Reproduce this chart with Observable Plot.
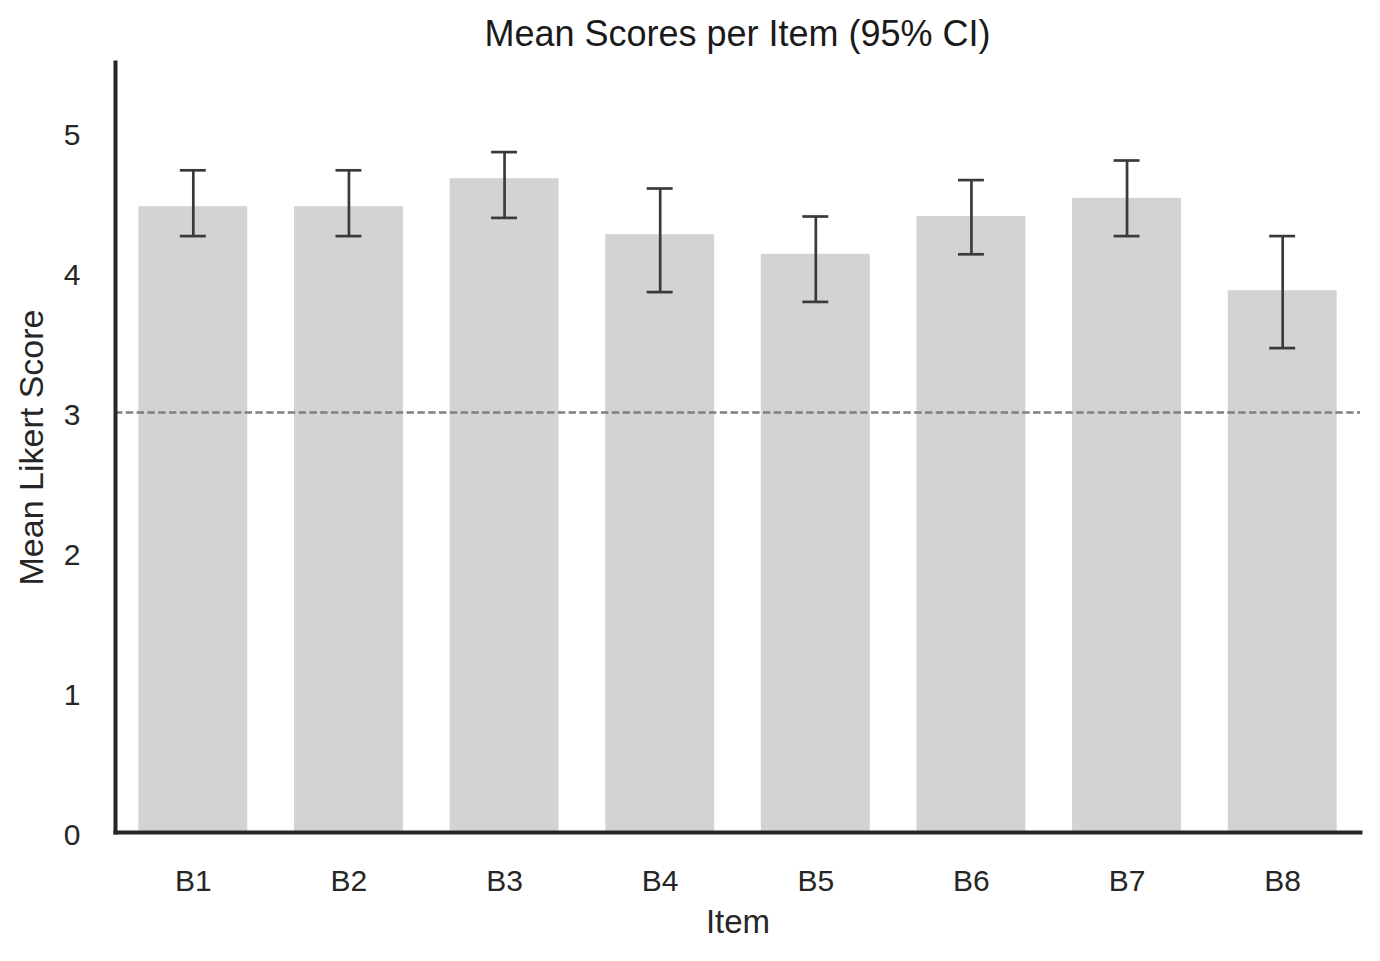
<!DOCTYPE html>
<html>
<head>
<meta charset="utf-8">
<script src="https://cdn.jsdelivr.net/npm/d3@7"></script>
<script src="https://cdn.jsdelivr.net/npm/@observablehq/plot@0.6"></script>
<style>
  html, body { margin: 0; padding: 0; background: #fff; }
  #wrap { position: relative; width: 1380px; height: 961px; font-family: "Liberation Sans", Arial, sans-serif; }
  #title { position: absolute; left: 95px; top: 0; width: 1285px; height: 68px; line-height: 68px;
           text-align: center; font-size: 36px; color: #1a1a1a; }
  #chart { position: absolute; left: 0; top: 0; }
</style>
</head>
<body>
<div id="wrap">
  <div id="chart"></div>
  <div id="title">Mean Scores per Item (95% CI)</div>
</div>
<script>
const items  = ["B1", "B2", "B3", "B4", "B5", "B6", "B7", "B8"];
const means  = [4.47, 4.47, 4.67, 4.27, 4.13, 4.40, 4.53, 3.87];
const ciLow  = [4.26, 4.26, 4.39, 3.86, 3.79, 4.13, 4.26, 3.46];
const ciHigh = [4.73, 4.73, 4.86, 4.60, 4.40, 4.66, 4.80, 4.26];
const yTicks = [0, 1, 2, 3, 4, 5];
const neutral = 3;

const data = items.map((item, i) => ({item, mean: means[i], lo: ciLow[i], hi: ciHigh[i]}));

const axisColor = "#262626";
const plot = Plot.plot({
  width: 1380,
  height: 961,
  marginTop: 62,
  marginBottom: 129,
  marginLeft: 115,
  marginRight: 20,
  style: {fontFamily: '"Liberation Sans", Arial, sans-serif', background: "#fff", color: axisColor},
  x: {domain: items, paddingInner: 0.3, paddingOuter: 0.15, round: false, label: null},
  y: {domain: [0, 5.5], label: null},
  marks: [
    Plot.barY(data, {x: "item", y: "mean", fill: "#d3d3d3"}),
    Plot.ruleY([neutral], {stroke: "#7f7f7f", strokeWidth: 2.5, strokeDasharray: "7.4,3.4"}),
    Plot.ruleX(data, {x: "item", y1: "lo", y2: "hi", stroke: "#3a3a3a", strokeWidth: 2.7}),
    Plot.tickY(data, {x: "item", y: "lo", stroke: "#3a3a3a", strokeWidth: 2.7, insetLeft: 41.5, insetRight: 41.5}),
    Plot.tickY(data, {x: "item", y: "hi", stroke: "#3a3a3a", strokeWidth: 2.7, insetLeft: 41.5, insetRight: 41.5}),
    Plot.axisY(yTicks, {tickSize: 0, tickPadding: 35, fontSize: 30, fill: axisColor, label: null, dy: 3, tickFormat: d3.format("d")}),
    Plot.axisX(items, {tickSize: 0, tickPadding: 37, fontSize: 30, fill: axisColor, label: null}),
    Plot.frame({anchor: "left", stroke: axisColor, strokeWidth: 4, strokeLinecap: "square"}),
    Plot.frame({anchor: "bottom", stroke: axisColor, strokeWidth: 4, strokeLinecap: "square"}),
    Plot.text(["Item"], {frameAnchor: "bottom", dy: 90, lineAnchor: "middle", textAnchor: "middle", fontSize: 33, fill: axisColor}),
    Plot.text(["Mean Likert Score"], {frameAnchor: "left", dx: -83, rotate: -90, lineAnchor: "middle", textAnchor: "middle", fontSize: 34, fill: axisColor})
  ]
});
document.getElementById("chart").appendChild(plot);
</script>
</body>
</html>
